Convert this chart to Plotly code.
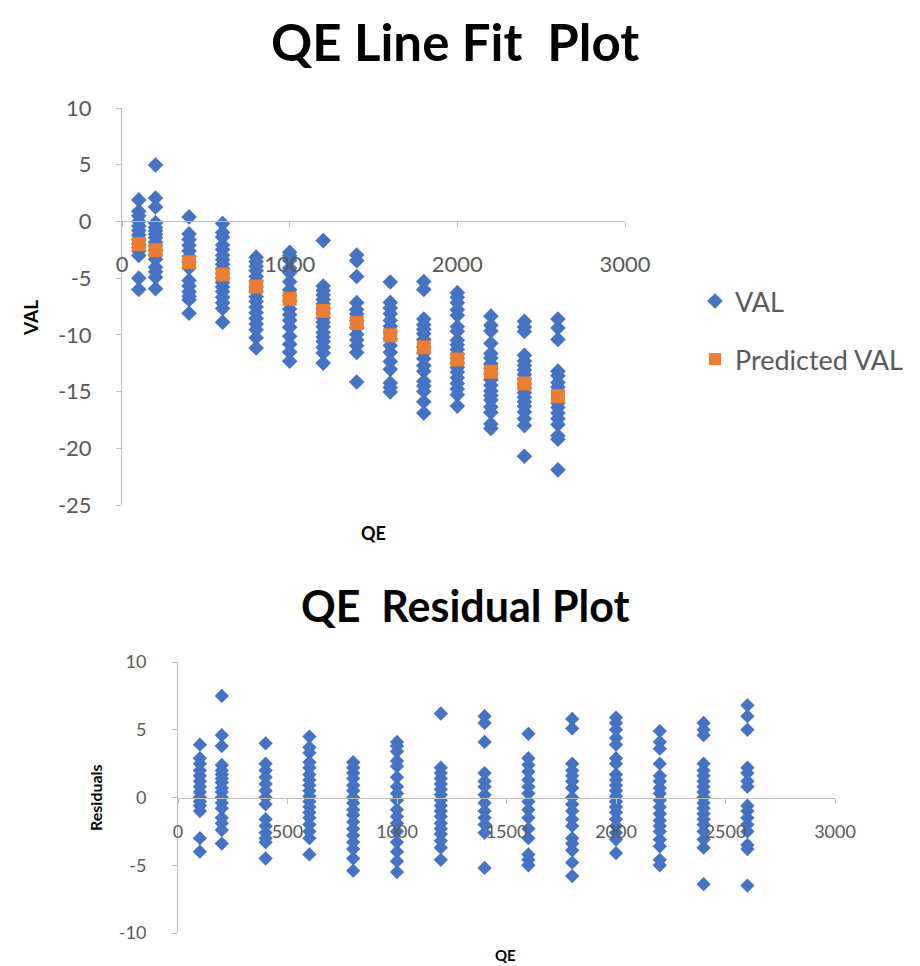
import plotly.graph_objects as go

# ---------------- data ----------------
qe_levels = [100, 200, 400, 600, 800, 1000, 1200, 1400, 1600, 1800, 2000, 2200, 2400, 2600]

predicted_val = [-2.0, -2.53, -3.6, -4.68, -5.75, -6.82, -7.89, -8.96,
                 -10.04, -11.1, -12.18, -13.25, -14.3, -15.4]

residuals_by_qe = [
    [3.9, 2.9, 2.5, 2.0, 1.6, 1.2, 0.8, 0.4, 0.0, -0.3, -0.6, -1.0, -3.0, -4.0],
    [7.5, 4.6, 3.8, 2.4, 2.0, 1.7, 1.4, 1.1, 0.7, 0.4, 0.0, -0.4, -0.8, -1.5, -1.9, -2.4, -3.4],
    [4.0, 2.5, 2.0, 1.5, 1.0, 0.5, 0.0, -0.5, -1.6, -2.1, -2.6, -3.0, -3.3, -4.5],
    [4.5, 3.7, 3.3, 2.6, 2.2, 1.7, 1.3, 0.9, 0.5, 0.1, -0.3, -0.7, -1.1, -1.5, -2.0, -2.5, -3.0, -4.2],
    [2.6, 2.2, 1.8, 1.4, 0.9, 0.5, 0.0, -0.4, -0.9, -1.3, -1.8, -2.3, -2.8, -3.3, -3.8, -4.5, -5.4],
    [4.1, 3.8, 3.4, 2.7, 2.3, 1.5, 0.8, 0.3, -0.2, -0.9, -1.4, -1.9, -2.5, -3.3, -4.0, -4.7, -5.5],
    [6.2, 2.2, 1.8, 1.4, 1.0, 0.6, 0.2, -0.2, -0.6, -1.0, -1.4, -1.9, -2.3, -2.7, -3.2, -3.7, -4.6],
    [6.0, 5.5, 4.1, 1.8, 1.2, 0.8, 0.2, -0.4, -1.0, -1.5, -2.0, -2.6, -5.2],
    [4.7, 2.9, 2.4, 1.9, 1.3, 0.8, 0.3, -0.3, -0.9, -1.5, -2.3, -3.0, -4.2, -4.6, -5.0],
    [5.8, 5.1, 2.5, 2.0, 1.6, 1.2, 0.7, 0.0, -0.5, -1.0, -1.6, -2.1, -3.0, -3.4, -3.9, -4.8, -5.8],
    [5.9, 5.5, 5.0, 4.4, 3.9, 2.9, 2.5, 1.7, 1.3, 0.9, 0.5, 0.1, -0.3, -0.7, -1.1, -1.6, -2.1, -2.6, -3.1, -4.1],
    [4.9, 4.1, 3.6, 2.5, 1.6, 1.2, 0.7, 0.3, -0.2, -0.7, -1.2, -1.7, -2.1, -2.5, -3.1, -3.6, -4.6, -5.0],
    [5.5, 5.0, 4.6, 2.5, 2.0, 1.6, 1.2, 0.8, 0.4, 0.0, -0.4, -0.8, -1.2, -1.6, -2.0, -2.5, -3.1, -3.7, -6.4],
    [6.8, 6.0, 5.0, 2.2, 1.8, 1.2, 0.8, -0.6, -1.0, -1.5, -2.0, -2.5, -3.5, -3.8, -6.5],
]

top_y_ticks = [10, 5, 0, -5, -10, -15, -20, -25]
top_y_labels = ["10", "5", "0", "-5", "-10", "-15", "-20", "-25"]
top_x_ticks = [0, 1000, 2000, 3000]
top_x_labels = ["0", "1000", "2000", "3000"]
bot_y_ticks = [10, 5, 0, -5, -10]
bot_y_labels = ["10", "5", "0", "-5", "-10"]
bot_x_ticks = [0, 500, 1000, 1500, 2000, 2500, 3000]
bot_x_labels = ["0", "500", "1000", "1500", "2000", "2500", "3000"]

# ---------------- flatten ----------------
qe_x, val_y, res_y = [], [], []
for q, p, rs in zip(qe_levels, predicted_val, residuals_by_qe):
    for r in rs:
        qe_x.append(q)
        res_y.append(r)
        val_y.append(p + r)

W, H = 920, 966
BLUE = "#4472C4"
ORANGE = "#ED7D31"
AX = "#BFBFBF"
TXT = "#595959"
FONT = "Lato"

# layout geometry (pixels)
top_x0, top_x1 = 122, 625
top_y_top, top_y_bot = 108, 505
bot_x0, bot_x1 = 178, 835
bot_y_top, bot_y_bot = 662, 933

def pdom(a, b):
    return [a / W, b / W]

def ydom(top, bot):
    return [1 - bot / H, 1 - top / H]

top_ydom = ydom(top_y_top, top_y_bot)
bot_ydom = ydom(bot_y_top, bot_y_bot)
top_zero = top_ydom[0] + (0 - (-25)) / 35 * (top_ydom[1] - top_ydom[0])
bot_zero = bot_ydom[0] + (0 - (-10)) / 20 * (bot_ydom[1] - bot_ydom[0])

fig = go.Figure()
fig.add_trace(go.Scatter(
    x=qe_x, y=val_y, mode="markers", name="VAL", legendgroup="a",
    marker=dict(symbol="diamond", size=12, color=BLUE),
    xaxis="x", yaxis="y"))
fig.add_trace(go.Scatter(
    x=qe_levels, y=predicted_val, mode="markers", name="Predicted VAL", legendgroup="b",
    marker=dict(symbol="square", size=14, color=ORANGE),
    xaxis="x", yaxis="y"))
fig.add_trace(go.Scatter(
    x=qe_x, y=res_y, mode="markers", name="Residuals", showlegend=False,
    marker=dict(symbol="diamond", size=11, color=BLUE),
    xaxis="x2", yaxis="y2"))

axcommon = dict(showgrid=False, zeroline=False, showline=True, linecolor=AX,
                linewidth=1, ticks="outside", tickcolor=AX, ticklen=5,
                automargin=False, fixedrange=True)

def ann(text, x, y, size, angle=0):
    return dict(text=text, x=x / W, y=1 - y / H, xref="paper", yref="paper",
                xanchor="center", yanchor="middle", showarrow=False, textangle=angle,
                font=dict(size=size, color="black", family=FONT))

fig.update_layout(
    width=W, height=H, autosize=False,
    margin=dict(l=0, r=0, t=0, b=0, pad=0),
    paper_bgcolor="white", plot_bgcolor="white",
    font=dict(family=FONT, color=TXT),
    xaxis=dict(domain=pdom(top_x0, top_x1), range=[0, 3000], anchor="free",
               position=top_zero, tickvals=top_x_ticks, ticktext=top_x_labels,
               ticklabelstandoff=18,
               tickfont=dict(size=22, color=TXT), **axcommon),
    yaxis=dict(domain=top_ydom, range=[-25, 10], anchor="x",
               tickvals=top_y_ticks, ticktext=top_y_labels, ticklabelstandoff=20,
               tickfont=dict(size=22, color=TXT), **axcommon),
    xaxis2=dict(domain=pdom(bot_x0, bot_x1), range=[0, 3000], anchor="free",
                position=bot_zero, tickvals=bot_x_ticks, ticktext=bot_x_labels,
                ticklabelstandoff=13,
                tickfont=dict(size=18, color=TXT), **axcommon),
    yaxis2=dict(domain=bot_ydom, range=[-10, 10], anchor="x2",
                tickvals=bot_y_ticks, ticktext=bot_y_labels, ticklabelstandoff=22,
                tickfont=dict(size=18, color=TXT), **axcommon),
    showlegend=True,
    legend=dict(x=695 / W, y=1 - 277 / H, xanchor="left", yanchor="top",
                font=dict(size=27, color=TXT), traceorder="grouped",
                tracegroupgap=20, itemsizing="constant", bgcolor="rgba(0,0,0,0)"),
    annotations=[
        ann("<b>QE Line Fit  Plot</b>", 455, 42, 51),
        ann("<b>QE  Residual Plot</b>", 465, 605, 43),
        ann("<b>QE</b>", 373, 533, 18),
        ann("<b>VAL</b>", 30, 318, 19, -90),
        ann("<b>QE</b>", 505, 955, 15),
        ann("<b>Residuals</b>", 95, 798, 16, -90),
    ],
)

fig.write_html("out.html")
